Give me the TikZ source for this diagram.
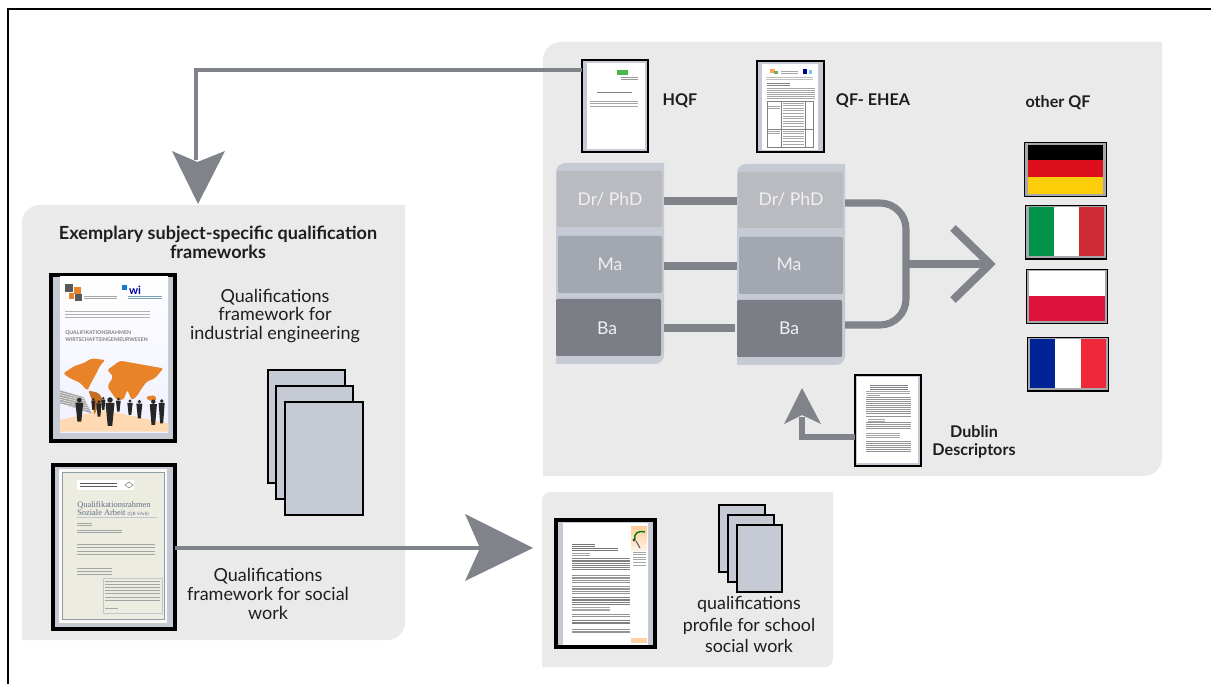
\documentclass[tikz,border=0pt]{standalone}
\usepackage{fontspec}
\setmainfont{Lato}
\newfontfamily\covserif{Liberation Serif}
\definecolor{panel}{HTML}{EAEAEA}
\definecolor{conn}{HTML}{80838A}
\definecolor{sheet}{HTML}{C5CAD5}
\definecolor{lvDr}{HTML}{B9BBC0}
\definecolor{lvMa}{HTML}{A3A7B0}
\definecolor{lvBa}{HTML}{7B7E85}
\definecolor{lbl}{HTML}{F0F0F2}
\definecolor{orng}{HTML}{E8832A}
\definecolor{txt}{HTML}{1E1E1E}
\definecolor{beige}{HTML}{EDECE0}
\definecolor{slate}{HTML}{5F7085}
\definecolor{deRed}{HTML}{DE0F1C}
\definecolor{deGold}{HTML}{FFCE0A}
\definecolor{itGreen}{HTML}{009246}
\definecolor{itRed}{HTML}{CE2B37}
\definecolor{plRed}{HTML}{DC143C}
\definecolor{frBlue}{HTML}{002395}
\definecolor{frRed}{HTML}{ED2939}
\tikzset{
  panelbox/.style={fill=panel,draw=none},
  docbox/.style={draw=black,fill=sheet,line width=2.2pt,inner sep=0pt,outer sep=0pt},
  coverbox/.style={docbox,line width=3pt},
  pagebox/.style={draw=black,fill=sheet,line width=1.9pt,inner sep=0pt,outer sep=0pt},
  flagbox/.style={draw=black,fill=conn!70,line width=1.2pt,inner sep=0pt,outer sep=0pt},
  stackbox/.style={draw=none,inner sep=0pt,outer sep=0pt},
  levelbox/.style={draw=none,inner sep=0pt,outer sep=0pt,rounded corners=1pt},
  connline/.style={draw=conn,line width=#1},
  headshape/.style={fill=conn,draw=none},
  captext/.style={align=center,text=txt,font=\fontsize{13.5}{14}\selectfont,inner sep=0pt},
  capbold/.style={align=center,text=txt,font=\bfseries\fontsize{12.1}{13.6}\selectfont,inner sep=0pt},
  levellabel/.style={text=lbl,font=\fontsize{13.2}{15}\selectfont,inner sep=0pt},
  grk/.style={draw=#1,line width=.5pt},
  grk/.default=gray
}
\newcommand\pxbox[6]{\node[#2,minimum width={(#5-(#3))*0.75pt},minimum height={(#6-(#4))*0.75pt}] (#1) at ({(#3+#5)/2},{(#4+#6)/2}) {};}
\newcommand\glines[6]{\pgfmathsetmacro\gnext{#3+#5}\foreach \yy in {#3,\gnext,...,#4}{\draw[grk=#6] (#1,\yy) -- (#2,\yy);}}
\newcommand\stackfill[4]{\fill[sheet] (#1,{#2+9}) arc[start angle=180,end angle=270,radius=9] -- (#3,#2) -- (#3,{#4-9}) arc[start angle=0,end angle=90,radius=9] -- (#1,#4) -- cycle;}
\begin{document}
\begin{tikzpicture}[x=0.75pt,y=-0.75pt]
\useasboundingbox (0,0) rectangle (1211,684);
\fill[white] (0,0) rectangle (1211,684);
\draw[black,line width=1.6pt] (8,684) -- (8,9) -- (1211,9);

% panels
\fill[panelbox] (543,60) arc[start angle=180,end angle=270,radius=18] -- (1162,42) -- (1162,458) arc[start angle=0,end angle=90,radius=18] -- (543,476) -- cycle;
\fill[panelbox] (22,223) arc[start angle=180,end angle=270,radius=18] -- (405,205) -- (405,622) arc[start angle=0,end angle=90,radius=18] -- (22,640) -- cycle;
\fill[panelbox] (542,500) arc[start angle=180,end angle=270,radius=8] -- (833,492) -- (833,659) arc[start angle=0,end angle=90,radius=8] -- (542,667) -- cycle;

% documents
\pxbox{hqf}{docbox}{582}{60}{648}{152}
\pxbox{ehea}{docbox}{757}{61}{824}{152}
\pxbox{dublin}{docbox}{855}{375}{921}{466}
\pxbox{coverA}{coverbox}{51}{275}{175}{441}
\pxbox{coverB}{coverbox}{53}{465}{175}{629}
\pxbox{school}{coverbox}{556}{520}{655}{647}

% HQF thumbnail
\fill[white] (587,63) rectangle (645,149);
\fill[green!60!black!70] (617,70) rectangle (628,75);
\glines{621}{638}{77}{80}{2.5}{gray!80}
\draw[grk=gray] (597,92) -- (632,92);
\glines{590}{638}{101}{107}{2.6}{gray!70}

% EHEA thumbnail
\fill[white] (762,64) rectangle (818,150);
\fill[orange!70] (770,69) rectangle (775,73);
\fill[green!50!black!60] (774,71) rectangle (778,74);
\fill[blue!60!black] (803,69) rectangle (807,74);
\fill[cyan!60] (809,70) rectangle (812,74);
\glines{781}{798}{71}{72}{2}{gray!70}
\glines{766}{813}{77}{79}{2}{gray!50}
\glines{767}{790}{83}{85}{2}{gray}
\glines{767}{815}{88}{99}{2.1}{gray!70}
\draw[gray,line width=.35pt] (767,101) rectangle (813,147) (781,101) -- (781,147) (805,101) -- (805,147) (767,129) -- (813,129);
\glines{783}{804}{103}{127}{2.6}{gray!70}
\glines{783}{804}{131}{146}{2.6}{gray!70}
\glines{768}{780}{106}{110}{2.6}{gray!70}
\glines{768}{780}{131}{135}{2.6}{gray!70}

% Dublin thumbnail
\fill[white] (857,377) rectangle (918,463);
\glines{870}{908}{385}{389}{2}{black!50}
\glines{866}{910}{391}{393}{2}{gray!70}
\glines{867}{880}{395}{396}{2}{gray!70}
\glines{866}{911}{397}{416}{2.1}{black!42}
\glines{868}{885}{419}{420}{2}{gray!70}
\glines{866}{911}{422}{430}{2.1}{black!42}
\glines{866}{900}{433}{439}{2.1}{gray!70}
\glines{866}{911}{441}{453}{2.1}{black!42}

% Cover A
\shade[top color=white,bottom color=blue!6] (60,277) rectangle (168,432);
\fill[black!65] (65,284) rectangle (73,292);
\fill[orng] (74,287) rectangle (81,294);
\fill[orng] (69,293) rectangle (74,299);
\fill[black!65] (75,294) rectangle (82,301);
\glines{84}{117}{296}{299}{2.5}{gray!70}
\node[inner sep=0pt,text=blue!60!black,font=\bfseries\fontsize{8.5}{9}\selectfont] (wi) at (135,290) {wi};
\fill[cyan!60!blue] (122,285) rectangle (127,290);
\glines{128}{162}{296}{300}{2.5}{cyan!35!gray}
\glines{65}{150}{311}{318}{3}{gray!60}
\node[anchor=west,inner sep=0pt,text=black!50,font=\bfseries\fontsize{3.9}{5}\selectfont] (covT1) at (65,332.5) {QUALIFIKATIONSRAHMEN};
\node[anchor=west,inner sep=0pt,text=black!50,font=\bfseries\fontsize{3.9}{5}\selectfont] (covT2) at (65,340) {WIRTSCHAFTSINGENIEURWESEN};
\begin{scope}[shift={(20,200)},x=0.25pt,y=-0.25pt]
  \fill[black!35] (120,570) -- (190,590) -- (215,640) -- (120,610) -- cycle;
  \foreach \k in {0,1,2,3,4,5,6}{\draw[white,line width=.3pt] (120,{570+7*\k}) -- ({190+4*\k},{590+7*\k});}
  \fill[orange!30] (120,660) -- (250,630) -- (445,670) -- (445,695) -- (120,695) -- cycle;
  \begin{scope}[rounded corners=1.5pt]
  \fill[orng] (130,520) -- (165,497) -- (190,490) -- (215,475) -- (255,480) -- (238,500) -- (232,515) -- (215,545) -- (202,572) -- (180,548) -- (150,535) -- cycle;
  \fill[orng!85!black] (205,572) -- (235,578) -- (250,600) -- (232,625) -- (222,645) -- (218,605) -- cycle;
  \fill[orng] (262,510) -- (300,482) -- (345,490) -- (430,505) -- (405,535) -- (380,545) -- (365,565) -- (350,590) -- (335,600) -- (322,570) -- (310,600) -- (290,600) -- (262,560) -- (280,530) -- cycle;
  \fill[orng] (378,590) -- (405,585) -- (410,600) -- (385,603) -- cycle;
  \end{scope}
  \foreach \px/\ty/\by/\w in {178/600/665/13,220/598/630/7,237/605/650/9,250/595/630/7,270/600/678/15,295/597/635/8,330/603/645/9,358/605/655/10,400/605/675/12,425/603/670/10}{
    \fill[black!85] (\px,\ty) circle[radius={\w*.55}];
    \fill[black!85] ({\px-.9*\w},{\ty+.6*\w}) -- ({\px+.9*\w},{\ty+.6*\w}) -- ({\px+.7*\w},{(\ty+\by)/2}) -- ({\px+.45*\w},\by) -- ({\px-.45*\w},\by) -- ({\px-.7*\w},{(\ty+\by)/2}) -- cycle;
  }
\end{scope}

% Cover B
\fill[white!70!beige] (59,469) rectangle (167,623);
\fill[beige] (62,472) rectangle (164,619);
\draw[slate!70,line width=.5pt] (62,472) rectangle (164,619);
\fill[white] (77,480) rectangle (134,490);
\glines{80}{117}{483}{487}{3}{black!65}
\draw[gray,line width=.4pt] (129,482) -- (133,485) -- (129,488) -- (125,485) -- cycle;
\node[anchor=west,inner sep=0pt,text=slate,font=\covserif\fontsize{6.3}{7}\selectfont] (covB1) at (77,505) {Qualifikationsrahmen};
\node[anchor=west,inner sep=0pt,text=slate,font=\covserif\fontsize{6.3}{7}\selectfont] (covB2) at (77,513) {Soziale Arbeit \fontsize{3.6}{4}\selectfont (QR SArb)};
\draw[slate!40,line width=.4pt] (77,517) -- (157,517);
\glines{77}{92}{523}{524}{2}{gray!70}
\glines{77}{122}{530}{531}{2}{gray!70}
\glines{77}{155}{544}{556}{3.6}{gray!70}
\glines{77}{112}{568}{576}{3.2}{gray!70}
\fill[beige] (103,578) rectangle (162,613);
\draw[slate!40,line width=.4pt] (103,578) rectangle (162,613);
\glines{105}{160}{581}{601}{3.2}{gray!70}
\draw[grk=gray!70] (105,608) -- (118,608);

% School document thumbnail
\fill[white] (563,523) rectangle (648,645);
\shade[top color=orange!40,bottom color=orange!10] (631,526) rectangle (647,550);
\draw[green!50!black,line width=1.1pt] (645,532) .. controls (638,530) and (633,534) .. (635,540);
\fill[black!75] (634,540) circle[radius=1.6];
\draw[black!70,line width=.7pt] (636,541) -- (640,548);
\fill[orange!35] (631,638) rectangle (647,643);
\glines{572}{595}{544}{546}{2}{black!55}
\glines{572}{618}{548}{549}{2}{black!55}
\glines{572}{590}{553}{554}{2}{gray!70}
\glines{633}{646}{552}{566}{2.6}{gray!70}
\glines{572}{630}{558}{570}{1.9}{black!50}
\glines{572}{630}{575}{583}{1.9}{black!42}
\glines{572}{630}{586}{594}{1.9}{black!42}
\glines{572}{630}{597}{605}{1.9}{black!50}
\glines{572}{610}{607}{612}{1.9}{gray!70}
\glines{572}{630}{614}{617}{1.9}{black!42}
\glines{572}{630}{620}{625}{1.9}{black!50}
\glines{572}{630}{629}{633}{1.9}{black!42}

% stacks of levels
\stackfill{556}{163}{664}{364}
\stackfill{737}{164}{845}{365}
\pxbox{stackL}{stackbox}{556}{163}{664}{364}
\pxbox{stackR}{stackbox}{737}{164}{845}{365}
\pxbox{drL}{levelbox,fill=lvDr}{557}{171}{662}{227}
\pxbox{maL}{levelbox,fill=lvMa}{558}{236}{662}{293}
\pxbox{baL}{levelbox,fill=lvBa}{556}{299}{661}{356}
\pxbox{drR}{levelbox,fill=lvDr}{738}{172}{843}{228}
\pxbox{maR}{levelbox,fill=lvMa}{739}{237}{843}{294}
\pxbox{baR}{levelbox,fill=lvBa}{737}{300}{842}{357}
\node[levellabel] (lDrL) at (610,199) {Dr/ PhD};
\node[levellabel] (lMaL) at (610,264.5) {Ma};
\node[levellabel] (lBaL) at (607,328) {Ba};
\node[levellabel] (lDrR) at (791,199) {Dr/ PhD};
\node[levellabel] (lMaR) at (789,264.5) {Ma};
\node[levellabel] (lBaR) at (789,328) {Ba};

% connectors between stacks
\draw[connline=6pt] (stackL.east |- 0,201) -- (stackR.west |- 0,201);
\draw[connline=6pt] (stackL.east |- 0,266) -- (stackR.west |- 0,266);
\draw[connline=6pt] (stackL.east |- 0,328) -- (735,328);

% merged arrow to the flags
\coordinate (mergeTip) at (990,264);
\draw[connline=5.3pt] (stackR.east |- 0,203) -- (880,203) arc[start angle=270,end angle=360,radius=26] -- (906,299) arc[start angle=0,end angle=90,radius=26] -- (stackR.east |- 0,325);
\draw[connline=5.3pt] (906,264) -- (988,264);
\draw[connline=6pt,miter limit=10] (953,228) -- (mergeTip) -- (953,300);

% flags
\pxbox{de}{flagbox}{1024.5}{142.5}{1106.5}{196.5}
\fill[black] (1028,145) rectangle (1103,160.5);
\fill[deRed] (1028,160.5) rectangle (1103,177);
\fill[deGold] (1028,177) rectangle (1103,194);
\pxbox{it}{flagbox}{1025.5}{205.5}{1106.5}{259}
\fill[itGreen] (1029,207.5) rectangle (1054,256.5);
\fill[white] (1054,207.5) rectangle (1079,256.5);
\fill[itRed] (1079,207.5) rectangle (1104,256.5);
\pxbox{pl}{flagbox}{1026.5}{269.5}{1107.5}{323.5}
\fill[white] (1029,271.5) rectangle (1105,296.5);
\fill[plRed] (1029,296.5) rectangle (1105,321);
\pxbox{fr}{flagbox}{1027.5}{337.5}{1108.5}{391}
\fill[frBlue] (1030,339.5) rectangle (1055,388.5);
\fill[white] (1055,339.5) rectangle (1080.5,388.5);
\fill[frRed] (1080.5,339.5) rectangle (1106,388.5);

% top arrow: HQF to subject-specific frameworks
\coordinate (topNotch) at (196,160);
\draw[connline=3.6pt] (hqf.west |- 0,70) -- (196,70) -- (topNotch);
\fill[headshape] (172,151) -- (197.5,162) -- (225,151) -- (198,204) -- cycle;

% bottom arrow: social work framework to school social work
\coordinate (sideNotch) at (482,548);
\draw[connline=3pt] (coverB.east |- 0,548) -- (sideNotch);
\fill[headshape] (465,514) -- (480,548) -- (465,581) -- (533,548) -- cycle;

% Dublin arrow
\coordinate (dubNotch) at (802,417);
\draw[connline=3.8pt] (dublin.west |- 0,437) -- (802,437) -- (dubNotch);
\fill[headshape] (784,424) -- (802,415) -- (821,424) -- (802,388) -- cycle;

% stacks of pages
\pxbox{sheetA1}{pagebox}{268}{370}{345}{483}
\pxbox{sheetA2}{pagebox}{276}{386}{353}{499}
\pxbox{sheetA3}{pagebox}{285}{402}{363}{515}
\pxbox{sheetB1}{pagebox,line width=1.3pt}{719}{505}{765}{572}
\pxbox{sheetB2}{pagebox,line width=1.3pt}{728}{515}{774}{582}
\pxbox{sheetB3}{pagebox,line width=1.3pt}{737}{525}{782}{592}

% labels
\node[capbold] (hqfL) at (680,101) {HQF};
\node[capbold] (eheaL) at (873,101) {QF- EHEA};
\node[capbold] (otherL) at (1058,103) {other QF};
\node[capbold] (dubL) at (974,442) {Dublin\\Descriptors};
\node[capbold,font=\bfseries\fontsize{13.55}{14.4}\selectfont] (exL) at (218,242) {Exemplary subject-specific qualification\\frameworks};
\node[captext] (indL) at (275,316) {Qualifications\\framework for\\industrial engineering};
\node[captext] (socL) at (268,594) {Qualifications\\framework for social\\work};
\node[captext,font=\fontsize{13.4}{15.8}\selectfont] (schL) at (749,624.5) {qualifications\\profile for school\\social work};
\end{tikzpicture}
\end{document}
